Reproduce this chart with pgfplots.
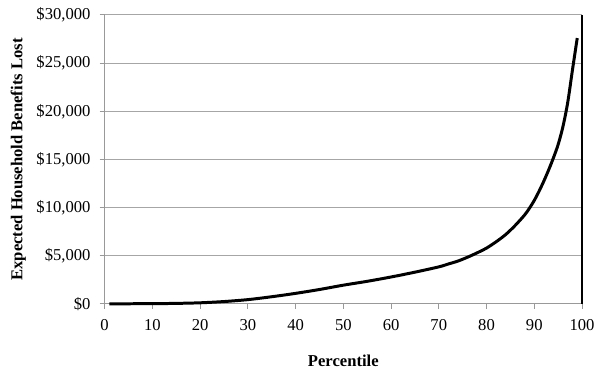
\documentclass[border=0pt]{standalone}
\usepackage{pgfplots}
\pgfplotsset{compat=1.18}
\usepackage{fontspec}
\setmainfont{Liberation Serif}
\begin{document}
\begin{tikzpicture}
\path (-63pt,-41.4pt) rectangle (297pt,183pt);
\begin{axis}[
  at={(0,0)}, anchor=south west,
  scale only axis, width=287.4pt, height=174pt,
  xmin=0, xmax=100, ymin=0, ymax=30000,
  xtick={0,10,...,100},
  ytick={0,5000,...,30000},
  yticklabels={\$0,\$5{,}000,\$10{,}000,\$15{,}000,\$20{,}000,\$25{,}000,\$30{,}000},
  scaled y ticks=false,
  /pgf/number format/assume math mode=true,
  ymajorgrids,
  grid style={gray!70, line width=0.6pt},
  axis line style={gray!80, line width=0.6pt},
  tick style={gray!80, line width=0.6pt},
  tick align=outside,
  major tick length=3pt,
  axis x line*=bottom, axis y line*=left,
  xticklabel style={font=\fontsize{10}{12}\selectfont, yshift=-3pt},
  yticklabel style={font=\fontsize{10}{12}\selectfont, xshift=-2pt},
  xlabel={\textbf{Percentile}},
  ylabel={\textbf{Expected Household Benefits Lost}},
  xlabel style={font=\fontsize{10}{12}\selectfont, at={(axis description cs:0.5,-0.195)}, anchor=center},
  ylabel style={font=\fontsize{10}{12}\selectfont, at={(axis description cs:-0.181,0.5)}, anchor=center},
  clip=false,
]
\addplot[black, line width=1.8pt, smooth, tension=0.5] coordinates {
(1,0) (5,20) (10,30) (15,60) (20,120) (25,250) (30,450) (35,750) (40,1100)
(45,1500) (50,1950) (55,2350) (60,2800) (65,3300) (70,3850) (72,4150) (74,4450)
(76,4850) (78,5300) (80,5800) (82,6450) (84,7200) (86,8150) (88,9250) (89,9950)
(90,10750) (91,11700) (92,12750) (93,13900) (94,15150) (95,16550) (96,18400)
(97,20900) (98,24300) (99,27600)
};
\draw[black, line width=0.8pt] (axis cs:100,0) -- (axis cs:100,30000);
\end{axis}
\end{tikzpicture}
\end{document}
